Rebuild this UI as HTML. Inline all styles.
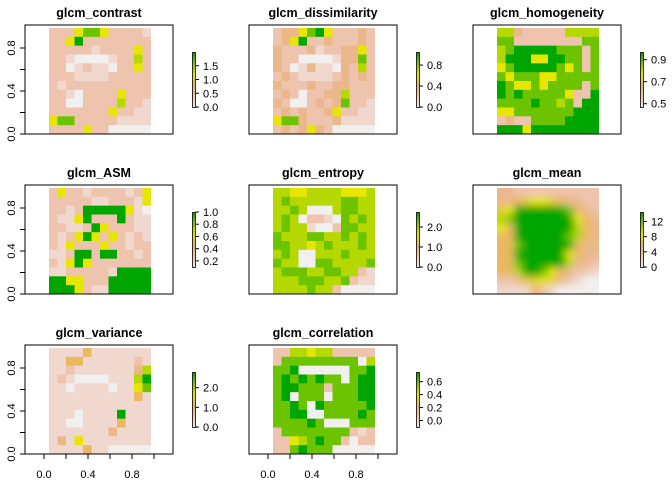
<!DOCTYPE html>
<html><head><meta charset="utf-8"><style>
body{margin:0;background:#fff}
svg{display:block;font-family:"Liberation Sans",sans-serif}
</style></head><body>
<svg id="c" width="672" height="480" viewBox="0 0 672 480">
<defs>
<linearGradient id="cb" x1="0" y1="1" x2="0" y2="0">
<stop offset="0" stop-color="#F2ECEA"/><stop offset="0.2" stop-color="#EEC8B4"/><stop offset="0.4" stop-color="#EAB468"/><stop offset="0.6" stop-color="#E6E600"/><stop offset="0.8" stop-color="#7CC800"/><stop offset="1" stop-color="#00A600"/>
</linearGradient>
<filter id="bl" filterUnits="userSpaceOnUse" x="-20" y="-20" width="142" height="146"><feGaussianBlur stdDeviation="4"/></filter>
<clipPath id="rc"><rect x="0" y="0" width="102" height="106"/></clipPath>
</defs>
</svg>
<script>
const titles=["glcm_contrast","glcm_dissimilarity","glcm_homogeneity","glcm_ASM","glcm_entropy","glcm_mean","glcm_variance","glcm_correlation"];
const legendLabels=[["0.0","0.5","1.0","1.5"],["0.0","0.4","0.8"],["0.5","0.7","0.9"],["0.2","0.4","0.6","0.8","1.0"],["0.0","1.0","2.0"],["0","4","8","12"],["0.0","1.0","2.0"],["0.0","0.2","0.4","0.6"]];
const legendMin=[0,0,0.47,0.1,0,0,0,-0.1];
const legendMax=[2.0,1.05,0.97,1.0,2.75,14.5,2.8,0.75];
const yTicks=[0,0.2,0.4,0.6,0.8];
const yTickLabels=["0.0","0.4","0.8"];
const xTicks=[0,0.2,0.4,0.6,0.8,1.0];
const xTickLabels=["0.0","0.4","0.8"];
const grid0=["222688622221","226922222222","222221222262","221000012272","220121102262","222111122222","212222222222","221022226222","220022227221","222222262211","688222221111","222262200000"];
const grid1=["233689622232","236922322232","322231223362","322000013382","320131103272","232111123232","322232233222","232022337222","320023238221","232322362211","688322231111","232363200000"];
const grid2=["773222227777","882222222288","789999988828","799966998828","689999986828","868886688888","986686888828","989888886229","888898878299","668888888999","232288889999","999699999999"];
const grid3=["262212222126","222221122216","221299999610","211692229211","221129622211","212696262121","216222622122","112992992212","216962222222","112222219999","996622299999","999621199999"];
const grid4=["776677776667","787777778877","778700078877","787022108787","787710028877","877788778787","887767877787","787007778777","877008877778","788877887721","777888778211","777787720000"];
const grid5=["332222222222","334566543322","569999998432","789999999643","649999999743","449999998743","448999999433","449999996433","448999997332","447998643221","223556532100","111142100000"];
const grid6=["111141111111","114411111121","112111111137","121000011179","110111101168","111111111141","111111111111","111011119111","110011114111","111111131111","131611111111","111141100000"];
const grid7=["227767722222","288888888807","889000000889","898989880899","899888288899","890888088899","889809888889","889900888898","888898000888","288888888212","226789882022","228988800000"];
const grids=[grid0,grid1,grid2,grid3,grid4,grid5,grid6,grid7];
const pal=["#F2F0EF","#F0D8CE","#EEC4AE","#EBB88C","#E9B860","#E6CC30","#E6E600","#B4D800","#6CC400","#00A600"];
const NS="http://www.w3.org/2000/svg";
const svg=document.getElementById('c');
function el(t,a,p){const e=document.createElementNS(NS,t);for(const k in a)e.setAttribute(k,a[k]);(p||svg).appendChild(e);return e;}
const bx0=25,bx1=173,by0=25,by1=134;
function sx(v){return 44+v*110;}
function sy(v){return 134-v*107.5;}
titles.forEach((t,i)=>{
  const ox=224*(i%3),oy=160*Math.floor(i/3);
  const g=el('g',{transform:`translate(${ox},${oy})`});
  
  
  const tt=el('text',{x:99,y:17,'text-anchor':'middle','font-size':'12.5','font-weight':'bold',fill:'#000'},g);
  tt.textContent=t;
  
  
  const rg=el('g',{transform:'translate(49,28)'},g);
  
  
  const inner=el('g',{'clip-path':'url(#rc)'},rg);
  const blur=i===5;
  const hg=el('g',blur?{filter:'url(#bl)'}:{},inner);
  const G=grids[i],nr=G.length,nc=G[0].length,cw=102/nc,ch=106/nr;
  const pad=blur?14:0;
  for(let r=0;r<nr;r++)for(let c=0;c<nc;c++){
    const v=+G[r][c];
    let x=c*cw,y=r*ch,w=cw+0.6,h=ch+0.6;
    if(c===0){x-=pad;w+=pad;} if(c===nc-1){w+=pad;}
    if(r===0){y-=pad;h+=pad;} if(r===nr-1){h+=pad;}
    const cell=el('rect',{x:x.toFixed(2),y:y.toFixed(2),width:w.toFixed(2),height:h.toFixed(2),fill:pal[v]},hg);
    
    
  }
  const box=el('rect',{x:bx0,y:by0,width:bx1-bx0,height:by1-by0,fill:'none',stroke:'#000','stroke-width':1},g);
  
  
  if(i%3===0){
    yTicks.forEach(v=>{el('line',{x1:bx0,x2:bx0-5,y1:sy(v),y2:sy(v),stroke:'#000'},g);});
    yTickLabels.forEach(l=>{const y=sy(+l);const tx=el('text',{x:15,y:y,'font-size':'11','text-anchor':'middle',transform:`rotate(-90 15 ${y})`,fill:'#000'},g);tx.textContent=l;
      
      });
  }
  if(i>=6){
    xTicks.forEach(v=>{el('line',{x1:sx(v),x2:sx(v),y1:by1,y2:by1+5,stroke:'#000'},g);});
    xTickLabels.forEach(l=>{const tx=el('text',{x:sx(+l),y:158,'font-size':'11','text-anchor':'middle',fill:'#000'},g);tx.textContent=l;
      
      });
  }
  const lg=el('g',{},g);
  
  
  el('rect',{x:192.5,y:52.5,width:3,height:55,fill:'url(#cb)',stroke:'#000','stroke-width':0.8},lg);
  const lo=legendMin[i],hi=legendMax[i];
  legendLabels[i].forEach(l=>{
    const y=107-(+l-lo)/(hi-lo)*55;
    el('line',{x1:195.5,x2:199,y1:y,y2:y,stroke:'#000'},lg);
    const tx=el('text',{x:203,y:y+4,'font-size':'11',fill:'#000'},lg);tx.textContent=l;
    
    
  });
});
</script>
</body></html>
